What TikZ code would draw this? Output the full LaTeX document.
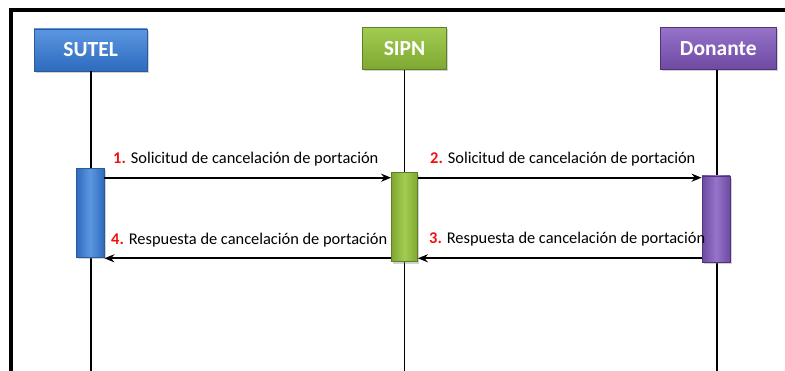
\documentclass[tikz,border=0pt]{standalone}
\usepackage{fontspec}
\setmainfont{Carlito}
\usetikzlibrary{arrows.meta,shadows}
\definecolor{blueT}{HTML}{5A96E0}
\definecolor{blueB}{HTML}{2F6BBE}
\definecolor{blueD}{HTML}{2D5A96}
\definecolor{greenT}{HTML}{A2CC50}
\definecolor{greenB}{HTML}{7FA832}
\definecolor{greenD}{HTML}{5F7F26}
\definecolor{purpT}{HTML}{9674C9}
\definecolor{purpB}{HTML}{6E4AA3}
\definecolor{purpD}{HTML}{4F3478}
\definecolor{msgred}{HTML}{F01010}
\tikzset{
  actor/.style={draw=#1D, line width=0.8pt, top color=#1T, bottom color=#1B,
    text=white, font=\bfseries\fontsize{21.5}{24}\selectfont, inner sep=0pt,
    minimum height=42pt,
    drop shadow={opacity=0.35, shadow xshift=1.5pt, shadow yshift=-2pt}},
  bar/.style={draw=#1D, line width=0.8pt, left color=#1B, right color=#1B,
    middle color=#1T, inner sep=0pt, minimum width=28pt,
    drop shadow={opacity=0.35, shadow xshift=1.5pt, shadow yshift=-2pt}},
  life/.style={line width=1.8pt, black},
  msg/.style={line width=1.8pt, black, -{Stealth[length=10pt,width=8pt]}},
  lbl/.style={anchor=base west, inner sep=0pt, font=\fontsize{16.4}{19}\selectfont}
}
\begin{document}
\begin{tikzpicture}[x=1pt,y=-1pt]
\useasboundingbox (0,0) rectangle (785,371);
\fill[white] (0,0) rectangle (785,371);
% frame
\draw[line width=4pt] (11,373) -- (11,10) -- (787,10);
% actors
\node[actor=blue, minimum width=113pt] (sutel) at (90.7,50) {SUTEL};
\node[actor=green, minimum width=84pt] (sipn) at (404.5,48.5) {SIPN};
\node[actor=purp, minimum width=116pt] (don) at (718.3,48.5) {Donante};
\coordinate (sutelEnd) at (90.7,373);
\coordinate (sipnEnd) at (404.5,373);
\coordinate (donEnd) at (717,373);
% lifelines
\draw[life] (sutel.south) -- (sutelEnd);
\draw[life] (sipn.south) -- (sipnEnd);
\draw[life] (don.south -| donEnd) -- (donEnd);
% activation bars
\node[bar=blue, minimum height=89pt] (sbar) at (90,213) {};
\node[bar=green, minimum width=26pt, minimum height=89pt] (pbar) at (404.5,217.2) {};
\node[bar=purp, minimum height=86pt] (dbar) at (716,219) {};
% messages
\draw[msg] (sbar.east |- 0,177.7) -- (pbar.west |- 0,177.7);
\draw[msg] (pbar.east |- 0,177.7) -- (dbar.west |- 0,177.7);
\draw[msg] (dbar.west |- 0,258.3) -- (pbar.east |- 0,258.3);
\draw[msg] (pbar.west |- 0,258.3) -- (sbar.east |- 0,258.3);
% labels
\node[lbl] (l1) at (113,163.3) {{\color{msgred}\bfseries 1.} Solicitud de cancelación de portación};
\node[lbl] (l2) at (430,163.3) {{\color{msgred}\bfseries 2.} Solicitud de cancelación de portación};
\node[lbl] (l3) at (429,243.3) {{\color{msgred}\bfseries 3.} Respuesta de cancelación de portación};
\node[lbl] (l4) at (111,244.3) {{\color{msgred}\bfseries 4.} Respuesta de cancelación de portación};
\end{tikzpicture}
\end{document}
